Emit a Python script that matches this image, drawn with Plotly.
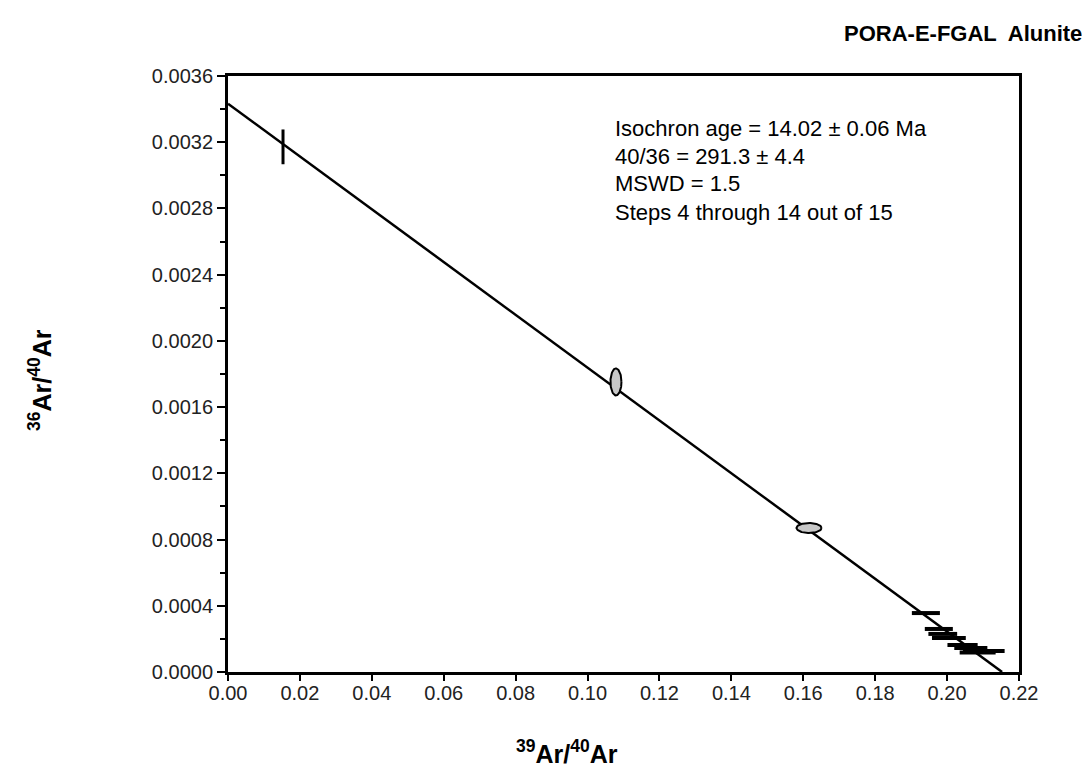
import numpy as np
import plotly.graph_objects as go

# ---- data ----
# steps drawn as error bars (x, y, half-widths)
bar_x = [0.0153, 0.1941, 0.1977, 0.1988, 0.2005, 0.2043, 0.2066, 0.2085, 0.2102]
bar_y = [0.003172, 0.000356, 0.000260, 0.000230, 0.000205, 0.000163, 0.000145, 0.000118, 0.000127]
bar_ex = [0.0, 0.0039, 0.0039, 0.0040, 0.0047, 0.0042, 0.0046, 0.0050, 0.0058]
bar_ey = [0.000105, 0, 0, 0, 0, 0, 0, 0, 0]

# steps drawn as error ellipses (centre, semi-axes)
ell_x = [0.1079, 0.1616]
ell_y = [0.001752, 0.000870]
ell_ax = [0.00153, 0.00348]
ell_ay = [0.0000816, 0.0000302]

# isochron fit
trapped_ratio = 291.3      # 40/36
x_intercept = 0.2153       # 39/40 at radiogenic end

info_lines = ["Isochron age = 14.02 \u00b1 0.06 Ma",
              "40/36 = 291.3 \u00b1 4.4",
              "MSWD = 1.5",
              "Steps 4 through 14 out of 15"]

FONT = "Arial, Liberation Sans, sans-serif"

fig = go.Figure()

# regression line
y0 = 1.0 / trapped_ratio
lx = np.array([0.0, x_intercept])
ly = y0 * (1 - lx / x_intercept)
fig.add_trace(go.Scatter(x=lx, y=ly, mode="lines",
                         line=dict(color="black", width=2.5),
                         hoverinfo="skip", showlegend=False))

# ellipses
t = np.linspace(0, 2 * np.pi, 100)
for cx, cy, ax_, ay_ in zip(ell_x, ell_y, ell_ax, ell_ay):
    fig.add_trace(go.Scatter(x=cx + ax_ * np.cos(t), y=cy + ay_ * np.sin(t),
                             mode="lines", fill="toself",
                             fillcolor="#c8c8c8",
                             line=dict(color="black", width=2),
                             showlegend=False, hoverinfo="skip"))

# horizontal bars
hx = [x for x, e in zip(bar_x, bar_ex) if e > 0]
hy = [y for y, e in zip(bar_y, bar_ex) if e > 0]
he = [e for e in bar_ex if e > 0]
fig.add_trace(go.Scatter(x=hx, y=hy, mode="markers",
                         marker=dict(size=1, color="rgba(0,0,0,0)"),
                         error_x=dict(type="data", array=he, visible=True,
                                      color="black", thickness=4, width=0),
                         showlegend=False))
# vertical bars
vx = [x for x, e in zip(bar_x, bar_ey) if e > 0]
vy = [y for y, e in zip(bar_y, bar_ey) if e > 0]
ve = [e for e in bar_ey if e > 0]
fig.add_trace(go.Scatter(x=vx, y=vy, mode="markers",
                         marker=dict(size=1, color="rgba(0,0,0,0)"),
                         error_y=dict(type="data", array=ve, visible=True,
                                      color="black", thickness=3, width=0),
                         showlegend=False))

axis_common = dict(showgrid=False, zeroline=False, showline=True,
                   linecolor="black", linewidth=3, mirror=True,
                   ticks="outside", tickcolor="black", tickwidth=2,
                   tickfont=dict(family=FONT, size=20, color="#222"))

fig.update_xaxes(range=[0, 0.22], dtick=0.02, tickformat=".2f", ticklen=6,
                 ticklabelstandoff=-5, **axis_common)
fig.update_yaxes(range=[0, 0.0036], dtick=0.0004, tickformat=".4f", ticklen=8,
                 minor=dict(dtick=0.0002, ticks="outside", ticklen=5,
                            tickwidth=2, tickcolor="black"),
                 **axis_common)

# page has ~8px body margin: positions below are in target screen pixels
OX, OY = 8, 8
L, T, PW, PH = 228, 76, 791, 596


def px(xs):
    return (xs - L) / PW


def py(ys):
    return (T + PH - ys) / PH


annotations = []
for i, line in enumerate(info_lines):
    annotations.append(dict(xref="paper", yref="paper",
                            x=px(613), y=py(128 + 28 * i),
                            xanchor="left", yanchor="middle", showarrow=False,
                            text=line,
                            font=dict(family=FONT, size=22, color="black")))
annotations.append(dict(xref="paper", yref="paper",
                        x=px(1084), y=py(33),
                        xanchor="right", yanchor="middle", showarrow=False,
                        text="<b>PORA-E-FGAL  Alunite</b>",
                        font=dict(family=FONT, size=22, color="black")))
annotations.append(dict(xref="paper", yref="paper",
                        x=px(567), y=py(752),
                        xanchor="center", yanchor="middle", showarrow=False,
                        text="<b><sup>39</sup>Ar/<sup>40</sup>Ar</b>",
                        font=dict(family=FONT, size=25, color="black")))
annotations.append(dict(xref="paper", yref="paper",
                        x=px(40), y=py(380),
                        xanchor="center", yanchor="middle", showarrow=False,
                        textangle=-90,
                        text="<b><sup>36</sup>Ar/<sup>40</sup>Ar</b>",
                        font=dict(family=FONT, size=25, color="black")))

W, H = 1090 - OX, 773 - OY
fig.update_layout(width=W, height=H,
                  margin=dict(l=L - OX, r=W - (L - OX) - PW, t=T - OY, b=H - (T - OY) - PH),
                  paper_bgcolor="white", plot_bgcolor="white",
                  annotations=annotations, showlegend=False)

fig.write_html("out.html")
